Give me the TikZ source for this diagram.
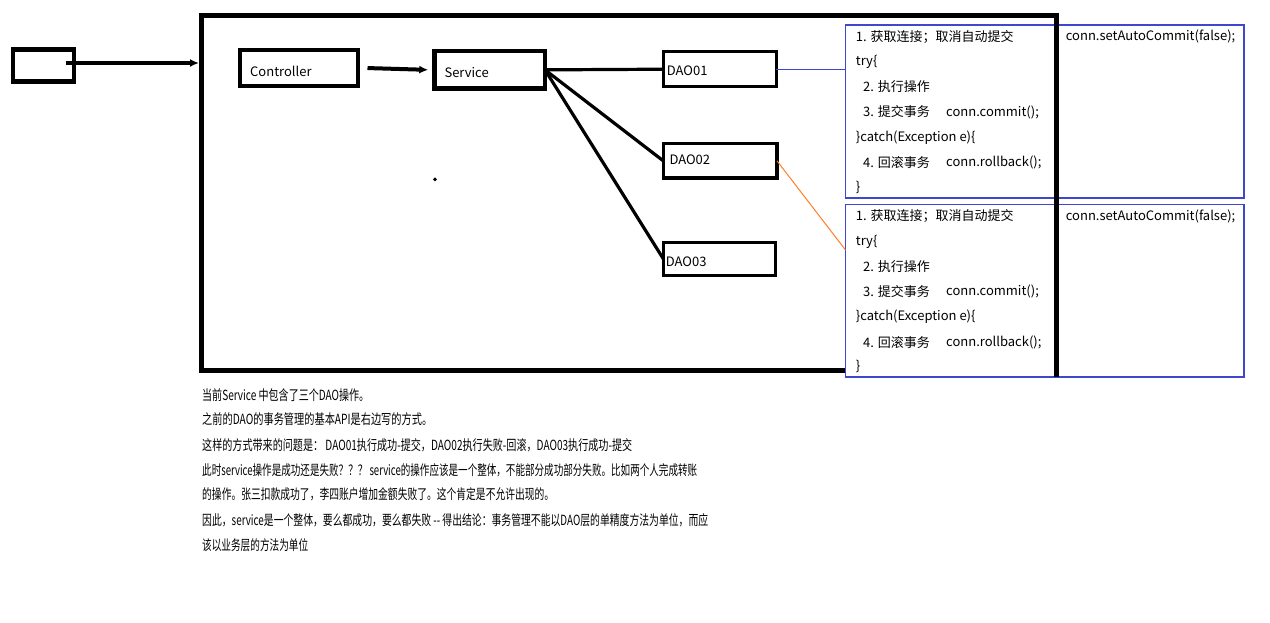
\documentclass[tikz,border=0pt]{standalone}
\usepackage{fontspec}
\setmainfont{Noto Sans CJK SC}
\usepackage{graphicx}
\usetikzlibrary{arrows.meta}
\definecolor{pblue}{RGB}{63,72,204}
\definecolor{porange}{RGB}{255,127,39}
\tikzset{
 box/.style={draw=black, anchor=north west, inner sep=0pt, outer sep=0pt},
 lbl/.style={anchor=west, inner sep=0pt, font=\fontsize{13}{15}\selectfont},
 code/.style={anchor=west, inner sep=0pt, font=\fontsize{13}{15}\selectfont},
 note/.style={anchor=west, inner sep=0pt, font=\fontsize{14}{16}\selectfont},
 thickln/.style={line width=4pt},
 tipend/.style={-{Latex[length=9pt,width=8pt]}},
 bluebox/.style={draw=pblue, line width=1.3pt, fill=white, anchor=north west, inner sep=0pt, outer sep=0pt},
}
\begin{document}
\begin{tikzpicture}[x=1pt,y=-1pt]
\useasboundingbox[fill=white] (0,0) rectangle (1270,622);
% boxes
\node[box, line width=4.5pt, minimum width=61pt, minimum height=32pt] (client) at (13,49.5) {};
\node[box, line width=5pt, minimum width=855pt, minimum height=355pt] (web) at (201,15) {};
\node[box, line width=4pt, minimum width=118pt, minimum height=36.5pt] (ctrl) at (239.5,49.5) {};
\node[box, line width=4.5pt, minimum width=110.7pt, minimum height=37.7pt] (srv) at (434.3,51) {};
\node[box, line width=3.3pt, minimum width=113pt, minimum height=35pt] (dao1) at (663.3,51.7) {};
\node[box, line width=3.3pt, minimum width=113.7pt, minimum height=34.3pt] (dao2) at (663.3,143.7) {};
\node[box, line width=3.3pt, minimum width=112pt, minimum height=33pt] (dao3) at (663.3,242.3) {};
% labels
\node[lbl] (ctrlT) at (250,71.7) {Controller};
\node[lbl] (srvT) at (444.3,72.3) {Service};
\node[lbl] (dao1T) at (666.7,71) {DAO01};
\node[lbl] (dao2T) at (669.3,160) {DAO02};
\node[lbl] (dao3T) at (665.7,261.7) {DAO03};
\node[circle, fill=black, inner sep=1.4pt] (dot) at (435,179.3) {};
% connectors
\coordinate (webin) at (199,63);
\draw[thickln,tipend] ([xshift=-8.3pt,yshift=2.5pt]client.east) -- (webin);
\draw[thickln,tipend,shorten <=10pt] (ctrl.east) -- ([xshift=-6pt]srv.west);
\draw[line width=3.2pt] (srv.east) -- (dao1.west);
\draw[line width=3.2pt] (srv.east) -- (dao2.west);
\draw[line width=3.2pt] (srv.east) -- (dao3.west);
% code boxes
\node[bluebox, minimum width=398.3pt, minimum height=173pt] (b1) at (845.7,25) {};
\node[bluebox, minimum width=398.3pt, minimum height=172.5pt] (b2) at (845.7,204.5) {};
\draw[pblue, line width=1.3pt] (dao1.east) -- (dao1.east -| b1.west);
\coordinate (o2) at (845.5,250);
\draw[porange, line width=1pt] (dao2.east) -- (o2);
\draw[line width=5pt] (web.north east) -- (web.north east |- b2.south);
\foreach \k/\dy in {1/0,2/179.8}{
 \node[code] (a\k) at (855.7,36.7+\dy) {1. 获取连接；取消自动提交};
 \node[code] (ac\k) at (1065.7,36.7+\dy) {conn.setAutoCommit(false);};
 \node[code] (b\k) at (855.7,62.2+\dy) {try\{};
 \node[code] (c\k) at (863,87+\dy) {2. 执行操作};
 \node[code] (d\k) at (863,112+\dy) {3. 提交事务};
 \node[code] (dc\k) at (946,112+\dy) {conn.commit();};
 \node[code] (e\k) at (855.7,137.3+\dy) {\}catch(Exception e)\{};
 \node[code] (f\k) at (863,162.5+\dy) {4. 回滚事务};
 \node[code] (fc\k) at (946,162.5+\dy) {conn.rollback();};
 \node[code] (g\k) at (855.7,187+\dy) {\}};
}
% notes
\node[note] (n1) at (202,395) {\resizebox{167pt}{\height}{当前Service 中包含了三个DAO操作。}};
\node[note] (n2) at (202,419.3) {\resizebox{230pt}{\height}{之前的DAO的事务管理的基本API是右边写的方式。}};
\node[note] (n3) at (202,445.7) {\resizebox{430pt}{\height}{这样的方式带来的问题是： DAO01执行成功-提交，DAO02执行失败-回滚，DAO03执行成功-提交}};
\node[note] (n4) at (202,470) {\resizebox{495pt}{\height}{此时service操作是成功还是失败？？？  service的操作应该是一个整体，不能部分成功部分失败。比如两个人完成转账}};
\node[note] (n5) at (202,494) {\resizebox{352pt}{\height}{的操作。张三扣款成功了，李四账户增加金额失败了。这个肯定是不允许出现的。}};
\node[note] (n6) at (202,520.7) {\resizebox{506pt}{\height}{因此，service是一个整体，要么都成功，要么都失败 -{}- 得出结论：事务管理不能以DAO层的单精度方法为单位，而应}};
\node[note] (n7) at (202,545) {\resizebox{106pt}{\height}{该以业务层的方法为单位}};
\end{tikzpicture}
\end{document}
